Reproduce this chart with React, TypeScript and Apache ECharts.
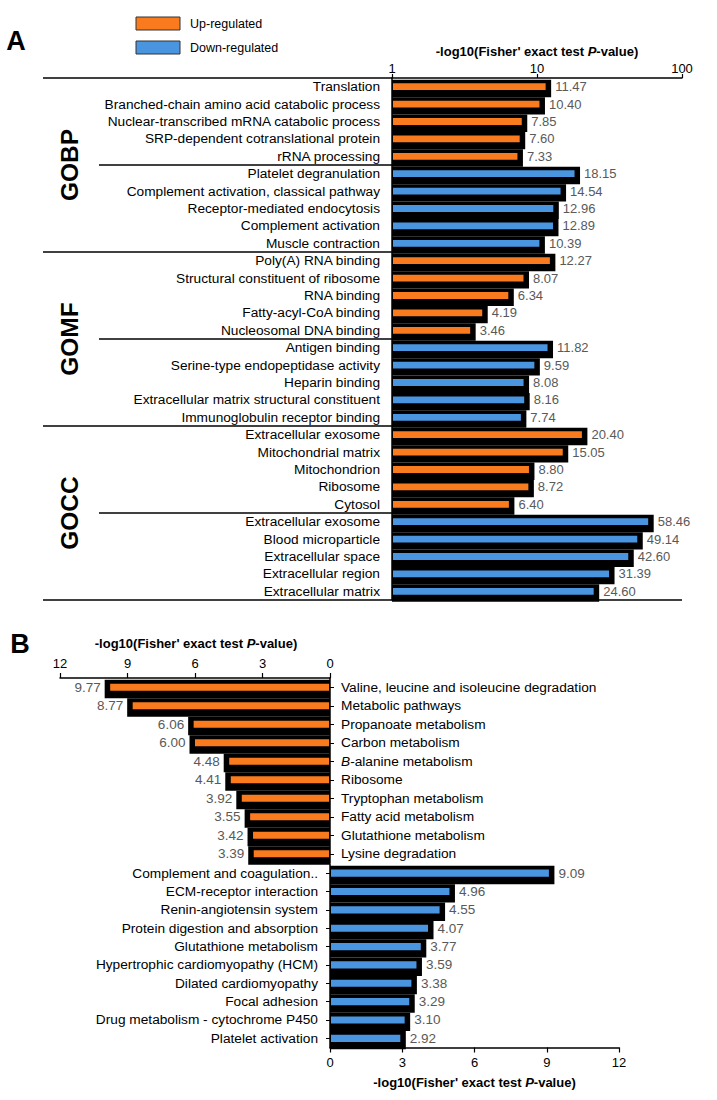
import React, { useEffect, useRef } from 'react';
import * as echarts from 'echarts';

// ---------- DATA ----------
const aGroups = ['GOBP', 'GOMF', 'GOCC'];

const aCategories = [
  'Translation',
  'Branched-chain amino acid catabolic process',
  'Nuclear-transcribed mRNA catabolic process',
  'SRP-dependent cotranslational protein',
  'rRNA processing',
  'Platelet degranulation',
  'Complement activation, classical pathway',
  'Receptor-mediated endocytosis',
  'Complement activation',
  'Muscle contraction',
  'Poly(A) RNA binding',
  'Structural constituent of ribosome',
  'RNA binding',
  'Fatty-acyl-CoA binding',
  'Nucleosomal DNA binding',
  'Antigen binding',
  'Serine-type endopeptidase activity',
  'Heparin binding',
  'Extracellular matrix structural constituent',
  'Immunoglobulin receptor binding',
  'Extracellular exosome',
  'Mitochondrial matrix',
  'Mitochondrion',
  'Ribosome',
  'Cytosol',
  'Extracellular exosome',
  'Blood microparticle',
  'Extracellular space',
  'Extracellular region',
  'Extracellular matrix',
];

const aValues = [
  11.47, 10.4, 7.85, 7.6, 7.33,
  18.15, 14.54, 12.96, 12.89, 10.39,
  12.27, 8.07, 6.34, 4.19, 3.46,
  11.82, 9.59, 8.08, 8.16, 7.74,
  20.4, 15.05, 8.8, 8.72, 6.4,
  58.46, 49.14, 42.6, 31.39, 24.6,
];

const aRegulation = [
  'up', 'up', 'up', 'up', 'up',
  'down', 'down', 'down', 'down', 'down',
  'up', 'up', 'up', 'up', 'up',
  'down', 'down', 'down', 'down', 'down',
  'up', 'up', 'up', 'up', 'up',
  'down', 'down', 'down', 'down', 'down',
];

const aTicks = [1, 10, 100];

const bUpCategories = [
  'Valine, leucine and isoleucine degradation',
  'Metabolic pathways',
  'Propanoate metabolism',
  'Carbon metabolism',
  'B-alanine metabolism',
  'Ribosome',
  'Tryptophan metabolism',
  'Fatty acid metabolism',
  'Glutathione metabolism',
  'Lysine degradation',
];
const bUpValues = [9.77, 8.77, 6.06, 6.0, 4.48, 4.41, 3.92, 3.55, 3.42, 3.39];

const bDownCategories = [
  'Complement and coagulation..',
  'ECM-receptor interaction',
  'Renin-angiotensin system',
  'Protein digestion and absorption',
  'Glutathione metabolism',
  'Hypertrophic cardiomyopathy (HCM)',
  'Dilated cardiomyopathy',
  'Focal adhesion',
  'Drug metabolism - cytochrome P450',
  'Platelet activation',
];
const bDownValues = [9.09, 4.96, 4.55, 4.07, 3.77, 3.59, 3.38, 3.29, 3.1, 2.92];

const bTicks = [0, 3, 6, 9, 12];

// ---------- STYLE ----------
const FONT = '"Liberation Sans", Arial, Helvetica, sans-serif';
const ORANGE = '#F97B1E';
const BLUE = '#4A95E0';
const GRAY = '#595959';
const CAT_FS = 13.7;

const A_LEFT = 392;
const A_TOP = 78;
const A_W = 290;
const A_H = 522;
const A_ROW = A_H / aCategories.length;
const LINE_X0 = 43;
const MID_X0 = 99;

function makeRender(base: number, colorOf: (i: number) => string, fs: number) {
  return (params: any, api: any) => {
    const idx = api.value(0);
    const v = api.value(1);
    const p0 = api.coord([base, idx]);
    const p1 = api.coord([v, idx]);
    const band = api.size([0, 1], [v, idx])[1];
    const dir = p1[0] >= p0[0] ? 1 : -1;
    const c = p1[1];
    const bx0 = p0[0];
    const bx1 = p1[0] + dir * 5.5;
    const cx0 = p0[0] + dir * 1;
    const cx1 = p1[0];
    const h = band * 0.39;
    const align = dir > 0 ? 'left' : 'right';
    return {
      type: 'group',
      children: [
        {
          type: 'rect',
          shape: { x: Math.min(bx0, bx1), y: c - band * 0.4, width: Math.abs(bx1 - bx0), height: band },
          style: { fill: '#000' },
        },
        {
          type: 'rect',
          shape: { x: Math.min(cx0, cx1), y: c - h / 2, width: Math.abs(cx1 - cx0), height: h },
          style: { fill: colorOf(params.dataIndex) },
        },
        {
          type: 'text',
          x: p1[0] + dir * 9.5,
          y: c,
          style: {
            text: v.toFixed(2),
            fill: GRAY,
            font: `${fs}px ${FONT}`,
            align,
            verticalAlign: 'middle',
            textAlign: align,
            textVerticalAlign: 'middle',
          },
        },
      ],
    };
  };
}

const titleRich = {
  n: { fontFamily: FONT, fontSize: 13, fontWeight: 'bold', fill: '#000', color: '#000' },
  i: { fontFamily: FONT, fontSize: 13, fontWeight: 'bold', fontStyle: 'italic', fill: '#000', color: '#000' },
};
const titleText = "{n|-log10(Fisher' exact test }{i|P}{n|-value)}";

function txt(x: number, y: number, text: string, font: string, align = 'left') {
  return {
    type: 'text',
    x,
    y,
    style: {
      text,
      font,
      fill: '#000',
      align,
      verticalAlign: 'middle',
      textAlign: align,
      textVerticalAlign: 'middle',
    },
  };
}

function title(x: number, y: number) {
  return {
    type: 'text', x, y,
    style: {
      text: titleText, rich: titleRich, font: `bold 13px ${FONT}`, fill: '#000',
      align: 'center', verticalAlign: 'middle', textAlign: 'center', textVerticalAlign: 'middle',
    },
  };
}

function hline(x1: number, x2: number, y: number) {
  return {
    type: 'line',
    shape: { x1, y1: y, x2, y2: y },
    style: { stroke: '#000', lineWidth: 1.5 },
  };
}

export default function App() {
  const ref = useRef<HTMLDivElement>(null);

  useEffect(() => {
    document.body.style.margin = '0';
    if (!ref.current) return;
    const chart = echarts.init(ref.current, undefined, { renderer: 'svg' });

    const axisLine = { show: true, lineStyle: { color: '#000', width: 1.5 } };
    const valueLabel = { color: '#000', fontSize: 13, fontFamily: FONT };
    const catLabel = { color: '#000', fontSize: CAT_FS, fontFamily: FONT, interval: 0 };

    const graphics: any[] = [];
    // Panel letters
    graphics.push(txt(16, 41, 'A', `bold 27px ${FONT}`, 'center'));
    graphics.push(txt(20, 644, 'B', `bold 27px ${FONT}`, 'center'));
    // Legend
    graphics.push({ type: 'rect', shape: { x: 136, y: 17, width: 44, height: 13 }, style: { fill: ORANGE, stroke: '#333', lineWidth: 1 } });
    graphics.push({ type: 'rect', shape: { x: 136, y: 41, width: 44, height: 13 }, style: { fill: BLUE, stroke: '#333', lineWidth: 1 } });
    graphics.push(txt(190, 24, 'Up-regulated', `12.5px ${FONT}`));
    graphics.push(txt(190, 48, 'Down-regulated', `12.5px ${FONT}`));
    // Titles
    graphics.push(title(A_LEFT + A_W / 2, 51));
    graphics.push(title(196, 643));
    graphics.push(title(330 + 289 / 2, 1082));
    // Panel A frame lines
    graphics.push(hline(LINE_X0, A_LEFT, A_TOP));
    graphics.push(hline(LINE_X0, A_LEFT + A_W, A_TOP + A_H));
    const perGroup = aCategories.length / aGroups.length;
    aGroups.forEach((g, gi) => {
      const yStart = A_TOP + gi * perGroup * A_ROW;
      const yMid = yStart + (perGroup / 2) * A_ROW;
      if (gi > 0) graphics.push(hline(LINE_X0, A_LEFT, yStart));
      graphics.push(hline(MID_X0, A_LEFT, yMid));
      graphics.push({
        type: 'text',
        x: 69,
        y: yStart + (perGroup * A_ROW) / 2,
        rotation: Math.PI / 2,
        style: {
          text: g, font: `bold 24.5px ${FONT}`, fill: '#000',
          align: 'center', verticalAlign: 'middle', textAlign: 'center', textVerticalAlign: 'middle',
        },
      });
    });

    const option: any = {
      animation: false,
      backgroundColor: '#fff',
      textStyle: { fontFamily: FONT },
      grid: [
        { left: A_LEFT, top: A_TOP, width: A_W, height: A_H },
        { left: 60, top: 678, width: 270, height: 185 },
        { left: 330, top: 864, width: 289, height: 183.5 },
      ],
      xAxis: [
        {
          gridIndex: 0, type: 'log', logBase: 10, min: aTicks[0], max: aTicks[aTicks.length - 1],
          position: 'top', axisLine,
          axisTick: { show: true, length: 4, lineStyle: { color: '#000', width: 1.2 } },
          axisLabel: { ...valueLabel, margin: 3 },
          splitLine: { show: false }, minorTick: { show: false },
        },
        {
          gridIndex: 1, type: 'value', min: bTicks[0], max: bTicks[bTicks.length - 1], interval: 3,
          inverse: true, position: 'top', axisLine,
          axisTick: { show: true, length: 5, lineStyle: { color: '#000', width: 1.2 } },
          axisLabel: { ...valueLabel, margin: 8 },
          splitLine: { show: false },
        },
        {
          gridIndex: 2, type: 'value', min: bTicks[0], max: bTicks[bTicks.length - 1], interval: 3,
          position: 'bottom', axisLine,
          axisTick: { show: true, length: 5, lineStyle: { color: '#000', width: 1.2 } },
          axisLabel: { ...valueLabel, margin: 8 },
          splitLine: { show: false },
        },
      ],
      yAxis: [
        {
          gridIndex: 0, type: 'category', inverse: true, data: aCategories,
          axisLine, axisTick: { show: false },
          axisLabel: { ...catLabel, margin: 12 },
        },
        {
          gridIndex: 1, type: 'category', inverse: true, position: 'right', data: bUpCategories,
          axisLine,
          axisTick: { show: true, alignWithLabel: true, length: 4, lineStyle: { color: '#000' } },
          axisLabel: {
            ...catLabel, margin: 11,
            formatter: (val: string) => (val.startsWith('B-') ? '{i|B}' + val.slice(1) : val),
            rich: { i: { fontStyle: 'italic', fontSize: CAT_FS, fontFamily: FONT, color: '#000' } },
          },
        },
        {
          gridIndex: 2, type: 'category', inverse: true, position: 'left', data: bDownCategories,
          axisLine,
          axisTick: { show: true, alignWithLabel: true, length: 4, lineStyle: { color: '#000' } },
          axisLabel: { ...catLabel, margin: 12 },
        },
      ],
      series: [
        {
          type: 'custom', xAxisIndex: 0, yAxisIndex: 0,
          encode: { x: 1, y: 0 },
          data: aValues.map((v, i) => [i, v]),
          renderItem: makeRender(aTicks[0], (i) => (aRegulation[i] === 'up' ? ORANGE : BLUE), 13),
        },
        {
          type: 'custom', xAxisIndex: 1, yAxisIndex: 1,
          encode: { x: 1, y: 0 },
          data: bUpValues.map((v, i) => [i, v]),
          renderItem: makeRender(bTicks[0], () => ORANGE, 13.5),
        },
        {
          type: 'custom', xAxisIndex: 2, yAxisIndex: 2,
          encode: { x: 1, y: 0 },
          data: bDownValues.map((v, i) => [i, v]),
          renderItem: makeRender(bTicks[0], () => BLUE, 13.5),
        },
      ],
      graphic: graphics,
    };

    chart.setOption(option);
    return () => chart.dispose();
  }, []);

  return <div ref={ref} style={{ width: 717, height: 1100 }} />;
}
